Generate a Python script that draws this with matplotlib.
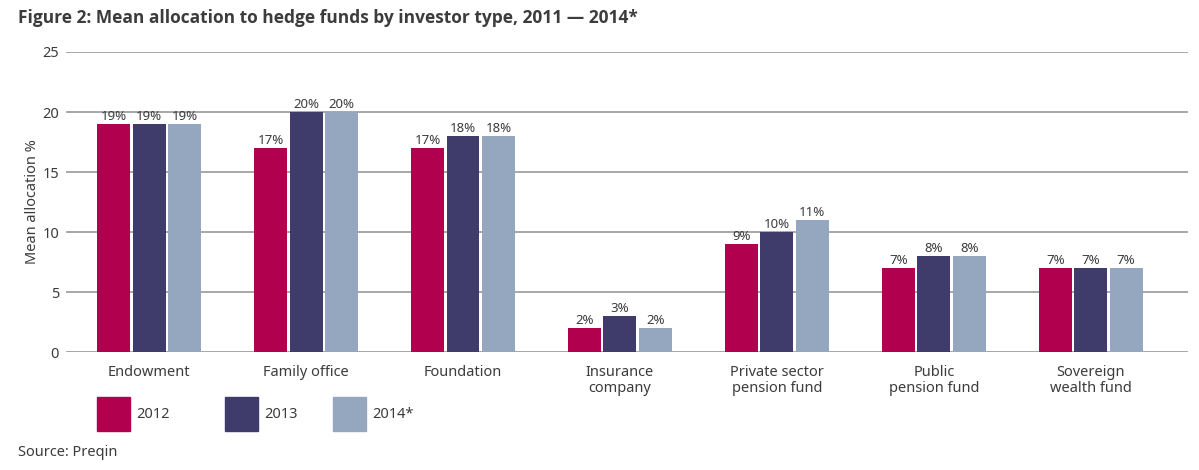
import numpy as np
import matplotlib
matplotlib.use("Agg")
import matplotlib.pyplot as plt
from matplotlib.patches import Rectangle

plt.rcParams['font.family'] = ['Noto Sans', 'DejaVu Sans']

categories = ["Endowment", "Family office", "Foundation", "Insurance\ncompany",
              "Private sector\npension fund", "Public\npension fund", "Sovereign\nwealth fund"]
years = ["2012", "2013", "2014*"]
alloc_2012 = [19, 17, 17, 2, 9, 7, 7]
alloc_2013 = [19, 20, 18, 3, 10, 8, 7]
alloc_2014 = [19, 20, 18, 2, 11, 8, 7]
series = [alloc_2012, alloc_2013, alloc_2014]
colors = ["#B0004E", "#3F3C6C", "#95A6BF"]

txt = "#3c3c3c"
grid_c = "#8f8f8f"

W, H = 1199, 470
fig = plt.figure(figsize=(W / 100, H / 100), dpi=100)
ax = fig.add_axes([66 / W, (H - 352) / H, (1188 - 66) / W, 300 / H])

x = np.arange(len(categories))
width = 0.21
step = 0.226
for i, (vals, c) in enumerate(zip(series, colors)):
    bars = ax.bar(x + (i - 1) * step, vals, width, color=c, zorder=3)
    for b, v in zip(bars, vals):
        ax.text(b.get_x() + b.get_width() / 2, v + 0.05, f"{v}%", ha="center", va="bottom",
                fontsize=9.5, color=txt, zorder=4)

ax.set_ylim(0, 25)
ax.set_yticks([0, 5, 10, 15, 20, 25])
ax.set_xlim(-0.53, 6.62)
ax.set_xticks(x)
ax.set_xticklabels(categories, fontsize=10.5, color=txt, linespacing=1.15)
ax.tick_params(axis="both", length=0, colors=txt, labelsize=10.5)
ax.tick_params(axis="x", pad=9)
ax.tick_params(axis="y", pad=5)
ax.grid(axis="y", color=grid_c, linewidth=1.1, zorder=0)
for s in ax.spines.values():
    s.set_visible(False)
ax.set_ylabel("Mean allocation %", fontsize=10.5, color=txt, labelpad=2)

fig.text(18 / W, 1 - 18 / H, "Figure 2: Mean allocation to hedge funds by investor type, 2011 \u2014 2014*",
         fontsize=12.5, fontweight="bold", family=["Open Sans", "DejaVu Sans"], color=txt,
         ha="left", va="center")

# legend
leg_x = [97, 225, 333]
for lx, c, lab in zip(leg_x, colors, years):
    fig.add_artist(Rectangle((lx / W, 1 - 431 / H), 33 / W, 34 / H, transform=fig.transFigure,
                             color=c))
    fig.text((lx + 39) / W, 1 - 414 / H, lab, fontsize=10.5, color=txt, ha="left", va="center")

fig.text(18 / W, 1 - 452 / H, "Source: Preqin", fontsize=10.5, color=txt, ha="left", va="center")

fig.savefig("out.png", dpi=100)
